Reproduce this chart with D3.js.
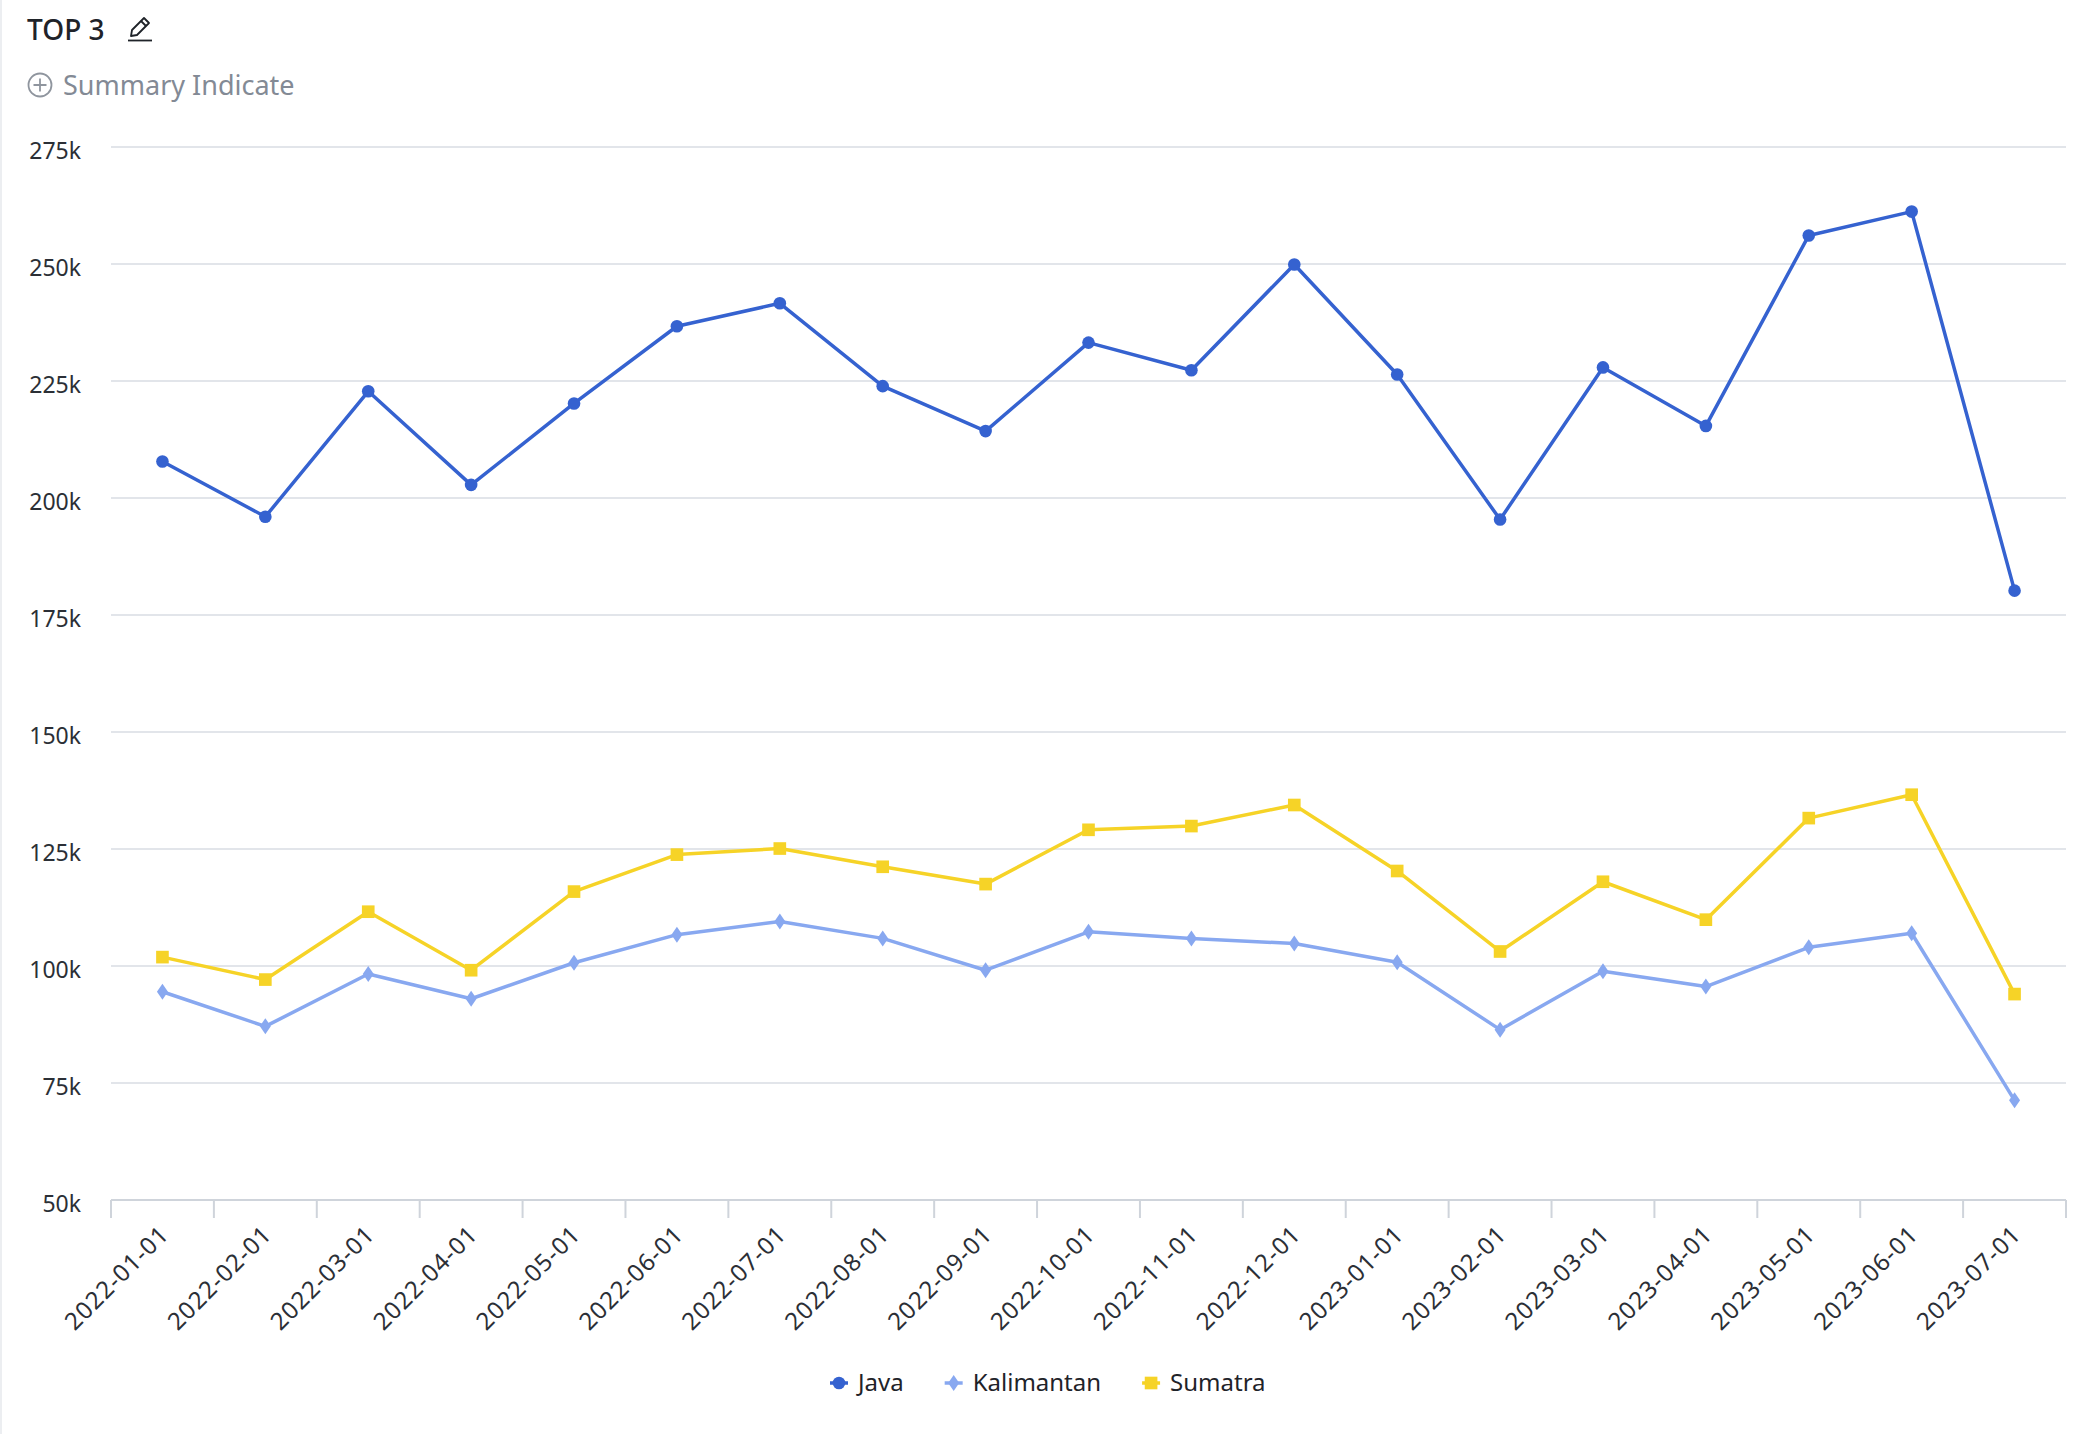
<!DOCTYPE html>
<html>
<head>
<meta charset="utf-8">
<script src="https://cdn.jsdelivr.net/npm/d3@7"></script>
<style>
  html, body { margin: 0; padding: 0; background: #fff; }
  #chart { width: 2074px; height: 1434px; }
  text { font-family: "Noto Sans", "Open Sans", sans-serif; }
</style>
</head>
<body>
<div id="chart"></div>
<script>
const months = ['2022-01-01', '2022-02-01', '2022-03-01', '2022-04-01', '2022-05-01', '2022-06-01', '2022-07-01',
  '2022-08-01', '2022-09-01', '2022-10-01', '2022-11-01', '2022-12-01', '2023-01-01', '2023-02-01',
  '2023-03-01', '2023-04-01', '2023-05-01', '2023-06-01', '2023-07-01'];

const java = [207800, 196000, 222800, 202800, 220200, 236700, 241600, 223900, 214300, 233200, 227300, 249900,
  226400, 195400, 227900, 215400, 256100, 261200, 180200];
const kalimantan = [94500, 87100, 98300, 93000, 100700, 106700, 109500, 105900, 99100, 107300, 105900, 104800,
  100800, 86400, 98900, 95600, 104000, 107000, 71300];
const sumatra = [101900, 97100, 111600, 99100, 115900, 123800, 125100, 121200, 117500, 129100, 129900, 134400,
  120300, 103100, 118000, 109900, 131600, 136600, 94000];

const yTicks = [50000, 75000, 100000, 125000, 150000, 175000, 200000, 225000, 250000, 275000];

const series = [
  {name: 'Java', values: java, color: '#3562d0', symbol: d3.symbolCircle, size: 125},
  {name: 'Kalimantan', values: kalimantan, color: '#88a8f0', symbol: 'diamond', size: 0},
  {name: 'Sumatra', values: sumatra, color: '#f6d327', symbol: d3.symbolSquare, size: 160}
];

const W = 2074, H = 1434;
const plot = {left: 111, right: 2066, top: 147, bottom: 1200};

const svg = d3.select('#chart').append('svg').attr('width', W).attr('height', H);

// card edge
svg.append('rect').attr('x', 0).attr('y', 0).attr('width', 2).attr('height', H).attr('fill', '#eceef1');

// header
svg.append('text').attr('x', 27).attr('y', 40).style('font-size', '28px').style('font-weight', 500)
  .attr('fill', '#1f2329').text('TOP 3');
const pen = svg.append('g').attr('fill', 'none').attr('stroke', '#1f2329').attr('stroke-width', 1.8)
  .attr('stroke-linejoin', 'round');
pen.append('path').attr('d', 'M131 36 L132 30 L144 18 L149 23 L137 35 Z');
pen.append('path').attr('d', 'M141 21 L146 26');
pen.append('path').attr('d', 'M128 40.5 L152 40.5');

const sum = svg.append('g').attr('stroke', '#8f959e').attr('stroke-width', 1.8).attr('fill', 'none');
sum.append('circle').attr('cx', 40).attr('cy', 85).attr('r', 11.5);
sum.append('path').attr('d', 'M40 78.5 V91.5 M33.5 85 H46.5');
svg.append('text').attr('x', 63).attr('y', 95).style('font-size', '27px').attr('fill', '#838a95')
  .text('Summary Indicate');

const x = d3.scaleBand().domain(months).range([plot.left, plot.right]);
const cx = d => x(d) + x.bandwidth() / 2;
const y = d3.scaleLinear().domain([50000, 275000]).range([plot.bottom, plot.top]);

// grid
svg.append('g').selectAll('line').data(yTicks.filter(t => t > 50000)).join('line')
  .attr('x1', plot.left).attr('x2', plot.right)
  .attr('y1', d => y(d)).attr('y2', d => y(d))
  .attr('stroke', '#d9dde3').attr('stroke-width', 1.5);

svg.append('g').selectAll('text').data(yTicks).join('text')
  .attr('x', 81).attr('y', d => y(d)).attr('dy', '0.52em').attr('text-anchor', 'end')
  .style('font-size', '23px').attr('fill', '#2b2f36')
  .text(d => d3.format('d')(d / 1000) + 'k');

// x axis
const axis = svg.append('g');
axis.append('line').attr('x1', plot.left).attr('x2', plot.right).attr('y1', plot.bottom).attr('y2', plot.bottom)
  .attr('stroke', '#cfd4db').attr('stroke-width', 2);
const edges = months.map(m => x(m)).concat([plot.right]);
axis.selectAll('.tick').data(edges).join('line').attr('class', 'tick')
  .attr('x1', d => d).attr('x2', d => d).attr('y1', plot.bottom).attr('y2', plot.bottom + 18)
  .attr('stroke', '#cfd4db').attr('stroke-width', 2);
axis.selectAll('.lbl').data(months).join('text').attr('class', 'lbl')
  .attr('transform', d => `translate(${cx(d) + 2},${plot.bottom + 30}) rotate(-45)`)
  .attr('text-anchor', 'end').attr('dy', '0.35em')
  .style('font-size', '24px').style('letter-spacing', '1px').attr('fill', '#2b2f36')
  .text(d => d);

// lines
const line = d3.line().x((v, i) => cx(months[i])).y(v => y(v));
const diamond = 'M0,-8 L5.5,0 L0,8 L-5.5,0 Z';

series.forEach(s => {
  const g = svg.append('g');
  g.append('path').datum(s.values).attr('d', line)
    .attr('fill', 'none').attr('stroke', s.color).attr('stroke-width', 3.5).attr('stroke-linejoin', 'round');
  g.selectAll('path.pt').data(s.values).join('path').attr('class', 'pt')
    .attr('transform', (v, i) => `translate(${cx(months[i])},${y(v)})`)
    .attr('d', s.symbol === 'diamond' ? diamond : d3.symbol(s.symbol, s.size)())
    .attr('fill', s.color);
});

// legend
const legend = svg.append('g').attr('transform', 'translate(830,1383)');
let lx = 0;
series.forEach(s => {
  const item = legend.append('g').attr('transform', `translate(${lx},0)`);
  item.append('line').attr('x1', 0).attr('x2', 18).attr('stroke', s.color).attr('stroke-width', 3.5);
  item.append('path').attr('transform', 'translate(9,0)')
    .attr('d', s.symbol === 'diamond' ? diamond : d3.symbol(s.symbol, s.size)())
    .attr('fill', s.color);
  const t = item.append('text').attr('x', 28).attr('dy', '0.35em').style('font-size', '24px')
    .attr('fill', '#1f2329').text(s.name);
  lx += 28 + t.node().getComputedTextLength() + 41;
});
</script>
</body>
</html>
